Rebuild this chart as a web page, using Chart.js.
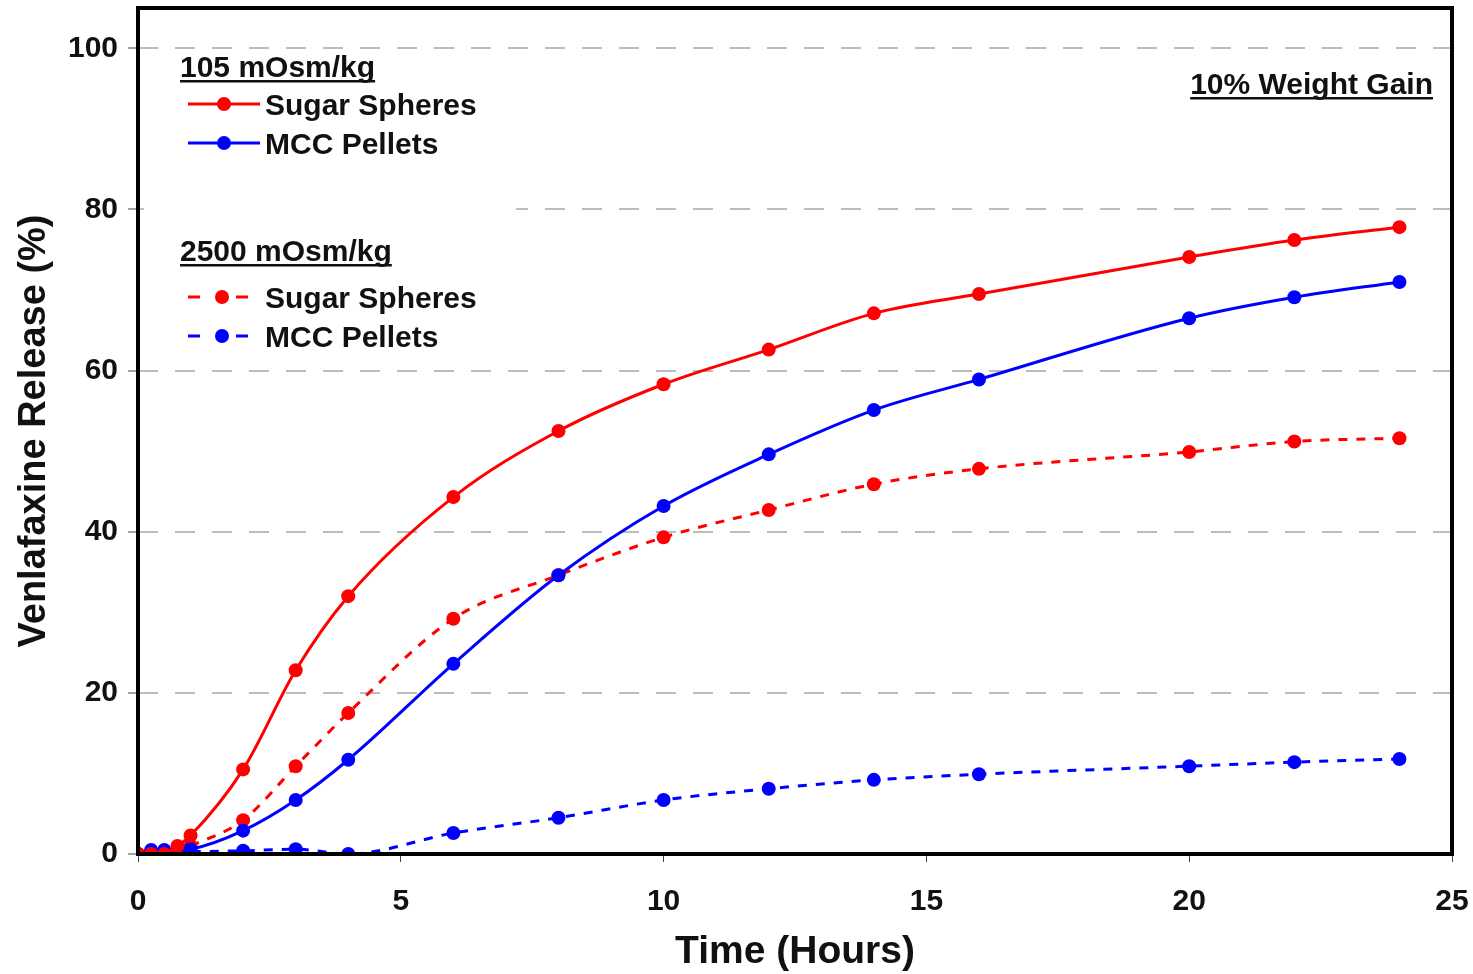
<!DOCTYPE html>
<html>
<head>
<meta charset="utf-8">
<title>Venlafaxine Release</title>
<script src="https://cdn.jsdelivr.net/npm/chart.js@4/dist/chart.umd.min.js"></script>
<style>
  html, body { margin: 0; padding: 0; background: #fff; }
  #wrap { width: 1473px; height: 974px; }
</style>
</head>
<body>
<div id="wrap"><canvas id="releaseChart" width="1473" height="974"></canvas></div>
<script>
// Sampling times (hours)
const hours = [0, 0.25, 0.5, 0.75, 1, 2, 3, 4, 6, 8, 10, 12, 14, 16, 20, 22, 24];

// 105 mOsm/kg
const sugar105 = [0, 0, 0, 1.0, 2.3, 10.5, 22.8, 32.0, 44.3, 52.5, 58.3, 62.6, 67.1, 69.5, 74.1, 76.2, 77.8];
const mcc105   = [0, 0.5, 0.5, 0.5, 0.6, 2.9, 6.7, 11.7, 23.6, 34.6, 43.2, 49.6, 55.1, 58.9, 66.5, 69.1, 71.0];

// 2500 mOsm/kg
const sugar2500 = [0, 0, 0, 0.3, 1.0, 4.2, 10.9, 17.5, 29.2, 34.6, 39.3, 42.7, 45.9, 47.8, 49.9, 51.2, 51.6];
const mcc2500   = [0, 0.3, 0.3, 0.3, 0.3, 0.4, 0.6, 0, 2.6, 4.5, 6.7, 8.1, 9.2, 9.9, 10.9, 11.4, 11.8];

const xTicks = [0, 5, 10, 15, 20, 25];
const yTicks = [0, 20, 40, 60, 80, 100];

const RED = '#ff0000';
const BLUE = '#0000ff';
const FONT = '"Liberation Sans", Arial, sans-serif';

function toPoints(values) {
    return hours.map((h, i) => ({ x: h, y: values[i] }));
}

function series(label, values, color, dashed) {
    return {
        label: label,
        data: toPoints(values),
        borderColor: color,
        backgroundColor: color,
        borderWidth: 3,
        borderDash: dashed ? [9, 9] : [],
        pointRadius: 7,
        pointHoverRadius: 7,
        pointBorderWidth: 0,
        cubicInterpolationMode: 'monotone',
        fill: false
    };
}

// Legend groups drawn inside the plot, like the original figure
const legendGroups = [
    { title: '105 mOsm/kg', titleY: 66, items: [
        { text: 'Sugar Spheres', color: RED, dashed: false, y: 104 },
        { text: 'MCC Pellets', color: BLUE, dashed: false, y: 143 }
    ]},
    { title: '2500 mOsm/kg', titleY: 250, items: [
        { text: 'Sugar Spheres', color: RED, dashed: true, y: 297 },
        { text: 'MCC Pellets', color: BLUE, dashed: true, y: 336 }
    ]}
];

// text is drawn with a 'middle' baseline, nudge it down to sit on the marker line
const TEXT_NUDGE = 3;

function underlinedText(ctx, text, x, y, align) {
    ctx.textAlign = align;
    ctx.fillText(text, x, y + TEXT_NUDGE);
    const w = ctx.measureText(text).width;
    const x0 = align === 'right' ? x - w : x;
    ctx.fillRect(x0, y + 14, w, 2.5);
}

const decorPlugin = {
    id: 'decor',
    afterDatasetsDraw(chart) {
        const ctx = chart.ctx;
        const area = chart.chartArea;
        ctx.save();

        // white box behind the legend
        ctx.fillStyle = '#fff';
        ctx.fillRect(area.left + 6, 56, 372, 300);

        ctx.fillStyle = '#111';
        ctx.font = 'bold 30px ' + FONT;
        ctx.textBaseline = 'middle';

        legendGroups.forEach(g => {
            underlinedText(ctx, g.title, 180, g.titleY, 'left');
            g.items.forEach(it => {
                ctx.strokeStyle = it.color;
                ctx.fillStyle = it.color;
                ctx.lineWidth = 3;
                ctx.beginPath();
                if (it.dashed) {
                    ctx.moveTo(188, it.y); ctx.lineTo(200, it.y);
                    ctx.moveTo(236, it.y); ctx.lineTo(248, it.y);
                } else {
                    ctx.moveTo(188, it.y); ctx.lineTo(260, it.y);
                }
                ctx.stroke();
                ctx.beginPath();
                ctx.arc(it.dashed ? 222 : 224, it.y, 7, 0, Math.PI * 2);
                ctx.fill();
                ctx.fillStyle = '#111';
                ctx.textAlign = 'left';
                ctx.fillText(it.text, 265, it.y + TEXT_NUDGE);
            });
        });

        underlinedText(ctx, '10% Weight Gain', 1433, 83, 'right');
        ctx.restore();
    },
    afterDraw(chart) {
        const ctx = chart.ctx;
        const a = chart.chartArea;
        ctx.save();
        ctx.strokeStyle = '#000';
        ctx.lineWidth = 4;
        ctx.strokeRect(a.left, a.top, a.right - a.left, a.bottom - a.top);
        ctx.restore();
    }
};

new Chart(document.getElementById('releaseChart'), {
    type: 'line',
    data: {
        datasets: [
            series('105 mOsm/kg Sugar Spheres', sugar105, RED, false),
            series('105 mOsm/kg MCC Pellets', mcc105, BLUE, false),
            series('2500 mOsm/kg Sugar Spheres', sugar2500, RED, true),
            series('2500 mOsm/kg MCC Pellets', mcc2500, BLUE, true)
        ]
    },
    options: {
        responsive: false,
        animation: false,
        layout: { padding: { top: 8, right: 21, left: 0, bottom: 0 } },
        plugins: {
            legend: { display: false },
            tooltip: { enabled: false }
        },
        scales: {
            x: {
                type: 'linear',
                min: 0,
                max: 25,
                afterBuildTicks: scale => { scale.ticks = xTicks.map(v => ({ value: v })); },
                afterFit: scale => {
                    scale.height = 120;
                    scale.paddingLeft = 0;
                    scale.paddingRight = 0;
                },
                grid: {
                    drawOnChartArea: false,
                    drawTicks: true,
                    tickLength: 8,
                    tickColor: '#444',
                    tickWidth: 1
                },
                border: { display: false },
                ticks: {
                    color: '#111',
                    padding: 22,
                    font: { family: FONT, size: 30, weight: 'bold' }
                },
                title: {
                    display: true,
                    text: 'Time (Hours)',
                    color: '#111',
                    padding: { top: 0, bottom: 2 },
                    font: { family: FONT, size: 39, weight: 'bold', lineHeight: 1 }
                }
            },
            y: {
                min: 0,
                max: 105,
                afterBuildTicks: scale => { scale.ticks = yTicks.map(v => ({ value: v })); },
                afterFit: scale => {
                    scale.width = 138;
                    scale.paddingTop = 0;
                    scale.paddingBottom = 0;
                },
                grid: {
                    color: ctx => ctx.tick && ctx.tick.value === 0 ? 'rgba(0,0,0,0)' : '#bdbdbd',
                    lineWidth: 2,
                    drawTicks: true,
                    tickLength: 10,
                    tickColor: '#444',
                    tickWidth: 1,
                    tickBorderDash: []
                },
                border: { display: false, dash: [20, 17] },
                ticks: {
                    color: '#111',
                    padding: 10,
                    font: { family: FONT, size: 30, weight: 'bold' }
                },
                title: {
                    display: true,
                    text: 'Venlafaxine Release (%)',
                    color: '#111',
                    padding: { bottom: 0, top: 12 },
                    font: { family: FONT, size: 38, weight: 'bold' }
                }
            }
        }
    },
    plugins: [decorPlugin]
});
</script>
</body>
</html>
